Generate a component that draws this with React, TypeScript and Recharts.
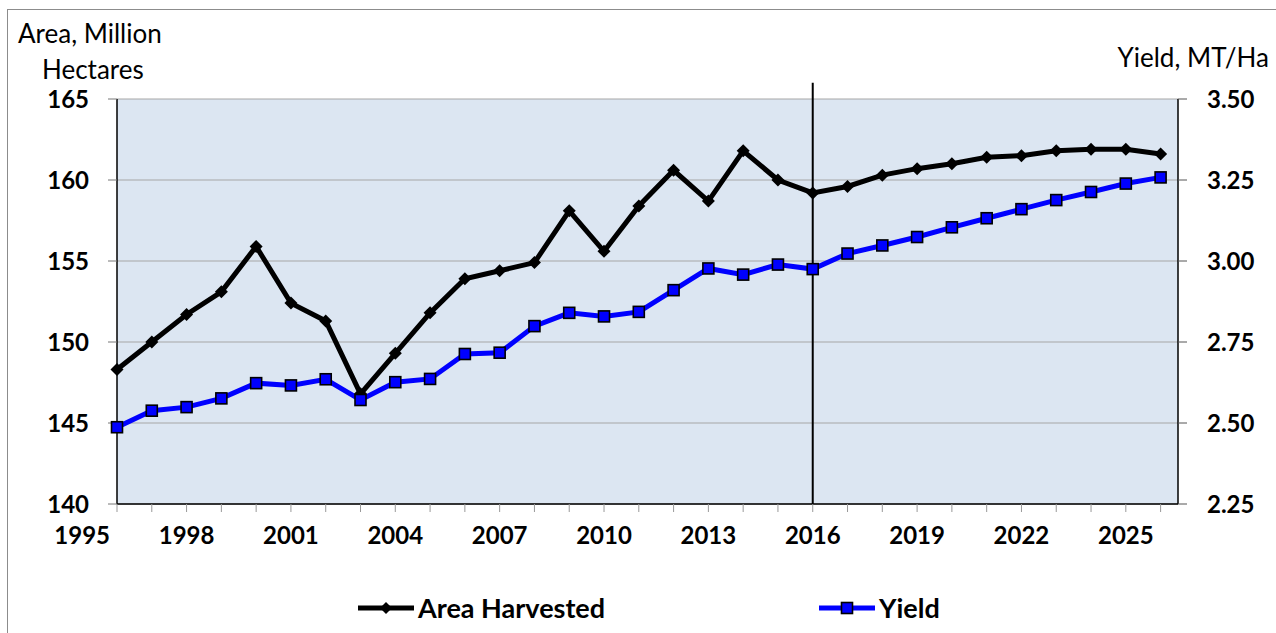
import React from 'react';
import { LineChart, Line, XAxis, YAxis, CartesianGrid, ReferenceLine } from 'recharts';

const YEARS = [
  1996, 1997, 1998, 1999, 2000, 2001, 2002, 2003, 2004, 2005, 2006, 2007, 2008, 2009, 2010, 2011,
  2012, 2013, 2014, 2015, 2016, 2017, 2018, 2019, 2020, 2021, 2022, 2023, 2024, 2025, 2026,
];

// million hectares
const AREA = [
  148.3, 150.0, 151.7, 153.1, 155.9, 152.4, 151.3, 146.8, 149.3, 151.8, 153.9, 154.4, 154.9, 158.1, 155.6, 158.4,
  160.6, 158.7, 161.8, 160.0, 159.2, 159.6, 160.3, 160.7, 161.0, 161.4, 161.5, 161.8, 161.9, 161.9, 161.6,
];

// MT/Ha
const YIELD = [
  2.487, 2.538, 2.549, 2.576, 2.623, 2.616, 2.635, 2.571, 2.626, 2.636, 2.713, 2.717, 2.799, 2.84, 2.829, 2.843,
  2.91, 2.977, 2.958, 2.989, 2.975, 3.023, 3.048, 3.074, 3.104, 3.132, 3.16, 3.188, 3.213, 3.239, 3.258,
];

const AREA_TICKS = [140, 145, 150, 155, 160, 165];
const YIELD_TICKS = [2.25, 2.5, 2.75, 3.0, 3.25, 3.5];
const LABEL_START = 1995;
const LABEL_EVERY = 3;
const MARKER_YEAR = 2016;

const SERIES = [
  { key: 'area', name: 'Area Harvested', color: '#000000', marker: 'diamond' },
  { key: 'yield', name: 'Yield', color: '#0000ff', marker: 'square' },
];

const data = YEARS.map((year, i) => ({ year, area: AREA[i], yield: YIELD[i] }));

const W = 1276;
const H = 633;
const LEFT_W = 117;
const RIGHT_W = 98;
const X_DOMAIN: [number, number] = [YEARS[0], YEARS[YEARS.length - 1] + 0.5];
const STEP = (W - LEFT_W - RIGHT_W) / (X_DOMAIN[1] - X_DOMAIN[0]);
const FONT = 'Lato, sans-serif';

const Diamond = ({ cx, cy, fill = '#000', r = 6.5 }: any) => (
  <polygon points={`${cx},${cy - r} ${cx + r},${cy} ${cx},${cy + r} ${cx - r},${cy}`} fill={fill} />
);

const Square = ({ cx, cy, s = 11 }: any) => (
  <rect x={cx - s / 2} y={cy - s / 2} width={s} height={s} fill="#0000ff" stroke="#000" strokeWidth={1.6} />
);

const XTick = ({ x, y, payload }: any) => {
  const v = payload.value;
  const out = [];
  if ((v - LABEL_START) % LABEL_EVERY === 0) out.push({ x, label: v });
  // Excel puts the first label one step left of the axis
  if (v === YEARS[0] && (v - 1 - LABEL_START) % LABEL_EVERY === 0) out.push({ x: x - STEP, label: v - 1 });
  return (
    <g>
      {out.map(o => (
        <text key={o.label} x={o.x} y={y} dy="0.71em" textAnchor="middle" fontFamily={FONT} fontWeight={700} fontSize={24} fill="#000">
          {o.label}
        </text>
      ))}
    </g>
  );
};

const yTickStyle = { fontFamily: FONT, fontWeight: 700, fontSize: 24, fill: '#000' };

function LegendItem({ s }: { s: typeof SERIES[number] }) {
  return (
    <div style={{ display: 'flex', alignItems: 'center' }}>
      <svg width={56} height={16} style={{ marginRight: 4 }}>
        <line x1={0} y1={8} x2={56} y2={8} stroke={s.color} strokeWidth={5} />
        {s.marker === 'diamond' ? <Diamond cx={28} cy={8} r={6} /> : <Square cx={28} cy={8} s={11} />}
      </svg>
      <span style={{ fontFamily: FONT, fontWeight: 700, fontSize: 27, color: '#000' }}>{s.name}</span>
    </div>
  );
}

export default function App() {
  return (
    <div style={{ position: 'absolute', left: 0, top: 0, width: W, height: H, overflow: 'hidden', background: '#fff' }}>
      <div style={{ position: 'absolute', left: 7, top: 9, width: 1400, height: 900, border: '1px solid #8c8c8c' }} />

      <div style={{ position: 'absolute', left: 18, top: 20, fontFamily: FONT, fontSize: 26, lineHeight: 1, whiteSpace: 'nowrap' }}>
        Area, Million
      </div>
      <div style={{ position: 'absolute', left: 42, top: 56, fontFamily: FONT, fontSize: 26, lineHeight: 1, whiteSpace: 'nowrap' }}>
        Hectares
      </div>
      <div style={{ position: 'absolute', right: W - 1269, top: 44, fontFamily: FONT, fontSize: 26, lineHeight: 1, whiteSpace: 'nowrap' }}>
        Yield, MT/Ha
      </div>

      <div style={{ position: 'absolute', left: 0, top: 0 }}>
        <LineChart width={W} height={H} data={data} margin={{ top: 99, right: 0, bottom: 69, left: 0 }}>
          <CartesianGrid yAxisId="left" vertical={false} stroke="#a6a6a6" fill="#dce6f2" />
          <XAxis
            dataKey="year"
            type="number"
            domain={X_DOMAIN}
            ticks={YEARS}
            interval={0}
            height={60}
            tickSize={8}
            tickMargin={15}
            axisLine={{ stroke: '#000', strokeWidth: 1.5 }}
            tickLine={{ stroke: '#999' }}
            tick={<XTick />}
          />
          <YAxis
            yAxisId="left"
            orientation="left"
            width={LEFT_W}
            domain={[140, 165]}
            ticks={AREA_TICKS}
            interval={0}
            tickSize={9}
            tickMargin={19}
            axisLine={{ stroke: '#000', strokeWidth: 1.5 }}
            tickLine={{ stroke: '#777' }}
            tick={yTickStyle}
          />
          <YAxis
            yAxisId="right"
            orientation="right"
            width={RIGHT_W}
            domain={[2.25, 3.5]}
            ticks={YIELD_TICKS}
            interval={0}
            tickSize={9}
            tickMargin={20}
            tickFormatter={(v: number) => v.toFixed(2)}
            axisLine={{ stroke: '#000', strokeWidth: 1.5 }}
            tickLine={{ stroke: '#555' }}
            tick={{ ...yTickStyle, textAnchor: 'start' }}
          />
          <ReferenceLine
            yAxisId="left"
            segment={[{ x: MARKER_YEAR, y: 140 }, { x: MARKER_YEAR, y: 166 }]}
            ifOverflow="visible"
            stroke="#000"
            strokeWidth={2}
          />
          <Line
            yAxisId="left"
            dataKey="area"
            name={SERIES[0].name}
            type="linear"
            stroke={SERIES[0].color}
            strokeWidth={5}
            dot={(p: any) => <Diamond key={p.index} cx={p.cx} cy={p.cy} />}
            isAnimationActive={false}
          />
          <Line
            yAxisId="right"
            dataKey="yield"
            name={SERIES[1].name}
            type="linear"
            stroke={SERIES[1].color}
            strokeWidth={5}
            dot={(p: any) => <Square key={p.index} cx={p.cx} cy={p.cy} />}
            isAnimationActive={false}
          />
        </LineChart>
      </div>

      <div style={{ position: 'absolute', left: 358, top: 591 }}>
        <LegendItem s={SERIES[0]} />
      </div>
      <div style={{ position: 'absolute', left: 819, top: 591 }}>
        <LegendItem s={SERIES[1]} />
      </div>
    </div>
  );
}
